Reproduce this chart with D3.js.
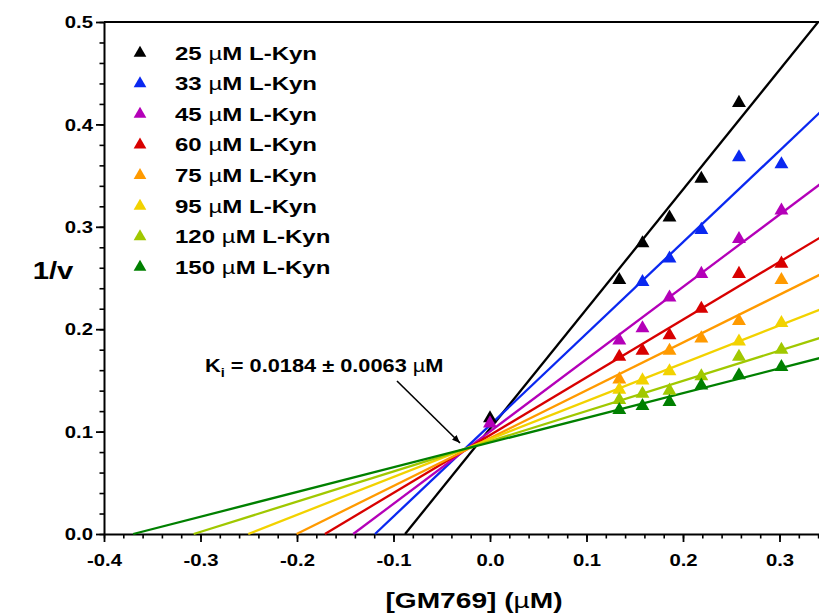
<!DOCTYPE html>
<html>
<head>
<meta charset="utf-8">
<script src="https://cdn.jsdelivr.net/npm/d3@7/dist/d3.min.js"></script>
<style>
  html, body { margin: 0; padding: 0; background: #fff; overflow: hidden; }
  svg { display: block; }
  text { font-family: "Liberation Sans", Arial, sans-serif; font-weight: bold; fill: #000; }
</style>
</head>
<body>
<svg id="chart" width="819" height="615"></svg>
<script>
// L-Kyn concentrations (µM) for each Dixon series
const concentrations = [25, 33, 45, 60, 75, 95, 120, 150];
const colors = ["#000000", "#0a28f0", "#b400b8", "#d80000", "#ff9a00", "#f2d200", "#a0c800", "#008000"];

// Measured points: [GM769] (µM) and 1/v
const series25  = [[0, 0.113], [0.134, 0.248], [0.158, 0.284], [0.186, 0.309], [0.219, 0.347], [0.258, 0.421]];
const series33  = [[0.158, 0.246], [0.186, 0.269], [0.219, 0.297], [0.258, 0.368], [0.302, 0.361]];
const series45  = [[0, 0.108], [0.134, 0.189], [0.158, 0.201], [0.186, 0.231], [0.219, 0.254], [0.258, 0.288], [0.302, 0.316]];
const series60  = [[0.134, 0.173], [0.158, 0.179], [0.186, 0.194], [0.219, 0.220], [0.258, 0.254], [0.302, 0.264]];
const series75  = [[0.134, 0.151], [0.186, 0.179], [0.219, 0.191], [0.258, 0.208], [0.302, 0.248]];
const series95  = [[0.134, 0.141], [0.158, 0.150], [0.186, 0.159], [0.258, 0.188], [0.302, 0.206]];
const series120 = [[0.134, 0.131], [0.158, 0.137], [0.186, 0.140], [0.219, 0.154], [0.258, 0.173], [0.302, 0.180]];
const series150 = [[0.134, 0.121], [0.158, 0.125], [0.186, 0.129], [0.219, 0.145], [0.258, 0.155], [0.302, 0.163]];
const points = [series25, series33, series45, series60, series75, series95, series120, series150];

// Linear fits (1/v = slope * [I] + intercept)
const fitSlopes     = [1.168, 0.893, 0.706, 0.564, 0.467, 0.370, 0.295, 0.2415];
const fitIntercepts = [0.1028, 0.1064, 0.1001, 0.0965, 0.0936, 0.0927, 0.0906, 0.0893];

// Axis ticks
const xMajorTicks = [-0.4, -0.3, -0.2, -0.1, 0.0, 0.1, 0.2, 0.3];
const yMajorTicks = [0.0, 0.1, 0.2, 0.3, 0.4, 0.5];
const xMinorTicks = d3.range(-40, 36, 2).map(v => v / 100);
const yMinorTicks = d3.range(0, 51, 2).map(v => v / 100);

const kiLabel = { name: "K", sub: "i", value: " = 0.0184 ± 0.0063 ", unit: "M" };

const svg = d3.select("#chart");
const x = d3.scaleLinear().domain([-0.4, 0.35]).range([104, 104 + 0.75 * 965]);
const y = d3.scaleLinear().domain([0, 0.5]).range([534, 22]);

const fmt = d3.format(".1f");
const label = v => fmt(v).replace("\u2212", "-");

// Minor ticks
svg.append("g").attr("transform", `translate(0,${y(0)})`)
  .call(d3.axisBottom(x).tickValues(xMinorTicks).tickSize(4.5).tickSizeOuter(0).tickFormat(""))
  .call(g => g.select(".domain").remove())
  .call(g => g.selectAll("line").attr("stroke", "#000").attr("stroke-width", 1.6));
svg.append("g").attr("transform", `translate(${x(-0.4)},0)`)
  .call(d3.axisLeft(y).tickValues(yMinorTicks).tickSize(4.5).tickSizeOuter(0).tickFormat(""))
  .call(g => g.select(".domain").remove())
  .call(g => g.selectAll("line").attr("stroke", "#000").attr("stroke-width", 1.6));

// Major axes
const xAxis = svg.append("g").attr("transform", `translate(0,${y(0)})`)
  .call(d3.axisBottom(x).tickValues(xMajorTicks).tickSize(8).tickSizeOuter(0).tickFormat(label));
const yAxis = svg.append("g").attr("transform", `translate(${x(-0.4)},0)`)
  .call(d3.axisLeft(y).tickValues(yMajorTicks).tickSize(8).tickSizeOuter(0).tickFormat(label));

[xAxis, yAxis].forEach(g => {
  g.select(".domain").attr("stroke", "#000").attr("stroke-width", 2);
  g.selectAll(".tick line").attr("stroke", "#000").attr("stroke-width", 1.8);
  g.selectAll(".tick text")
    .attr("font-family", "Liberation Sans, Arial, sans-serif")
    .attr("font-weight", "bold").attr("font-size", 16).attr("fill", "#000");
});
xAxis.selectAll(".tick text").attr("y", 0).attr("dy", 0)
  .attr("transform", "translate(0,32) scale(1.27,1)");
yAxis.selectAll(".tick text").attr("x", 0).attr("dy", "0.35em")
  .attr("transform", "translate(-11,0) scale(1.27,1)");

// Top frame line
svg.append("line")
  .attr("x1", x(-0.4)).attr("x2", x(0.35)).attr("y1", y(0.5)).attr("y2", y(0.5))
  .attr("stroke", "#000").attr("stroke-width", 2);

// Fit lines, from the x-intercept to the plot edge
const line = d3.line().x(d => x(d[0])).y(d => y(d[1]));
const plot = svg.append("g");
fitSlopes.forEach((m, i) => {
  const b = fitIntercepts[i];
  const x0 = -b / m;
  const x1 = Math.min(0.35, (0.5 - b) / m);
  plot.append("path")
    .attr("d", line([[x0, 0], [x1, m * x1 + b]]))
    .attr("fill", "none").attr("stroke", colors[i]).attr("stroke-width", 2.3);
});

// Data markers
const tri = d3.symbol().type(d3.symbolTriangle).size(84);
points.forEach((pts, i) => {
  plot.selectAll(null).data(pts).enter().append("path")
    .attr("d", tri)
    .attr("transform", d => `translate(${x(d[0])},${y(d[1])})`)
    .attr("fill", colors[i]);
});

// Horizontally stretched text helper
function stretchedText(px, py, size, sx, anchor) {
  return svg.append("text")
    .attr("transform", `translate(${px},${py}) scale(${sx},1)`)
    .attr("font-size", size)
    .attr("text-anchor", anchor || "start");
}

// Legend
concentrations.forEach((c, i) => {
  const cy = 53 + i * 30.6;
  svg.append("path").attr("d", d3.symbol().type(d3.symbolTriangle).size(70))
    .attr("transform", `translate(140,${cy})`).attr("fill", colors[i]);
  const t = stretchedText(175, cy + 6.5, 18.5, 1.3);
  t.append("tspan").text(c + " ");
  t.append("tspan").attr("font-weight", "normal").text("\u00b5");
  t.append("tspan").text("M L-Kyn");
});

// Axis titles
stretchedText(53, 279, 24, 1.22, "middle").text("1/v");
const xt = stretchedText(474, 608, 22.5, 1.25, "middle");
xt.append("tspan").text("[GM769] (");
xt.append("tspan").attr("font-weight", "normal").text("\u00b5");
xt.append("tspan").text("M)");

// Ki annotation
const kt = stretchedText(205, 372, 18, 1.21);
kt.append("tspan").text(kiLabel.name);
kt.append("tspan").attr("font-size", 12).attr("dy", 5).text(kiLabel.sub);
kt.append("tspan").attr("dy", -5).text(kiLabel.value);
kt.append("tspan").attr("font-weight", "normal").text("\u00b5");
kt.append("tspan").text(kiLabel.unit);

svg.append("defs").append("marker")
  .attr("id", "arrowhead").attr("viewBox", "0 0 10 10")
  .attr("refX", 10).attr("refY", 5)
  .attr("markerWidth", 8).attr("markerHeight", 8)
  .attr("markerUnits", "userSpaceOnUse")
  .attr("orient", "auto")
  .append("path").attr("d", "M0,1 L10,5 L0,9 z").attr("fill", "#000");
svg.append("line")
  .attr("x1", 397).attr("y1", 381).attr("x2", 460).attr("y2", 443)
  .attr("stroke", "#000").attr("stroke-width", 1.6)
  .attr("marker-end", "url(#arrowhead)");
</script>
</body>
</html>
